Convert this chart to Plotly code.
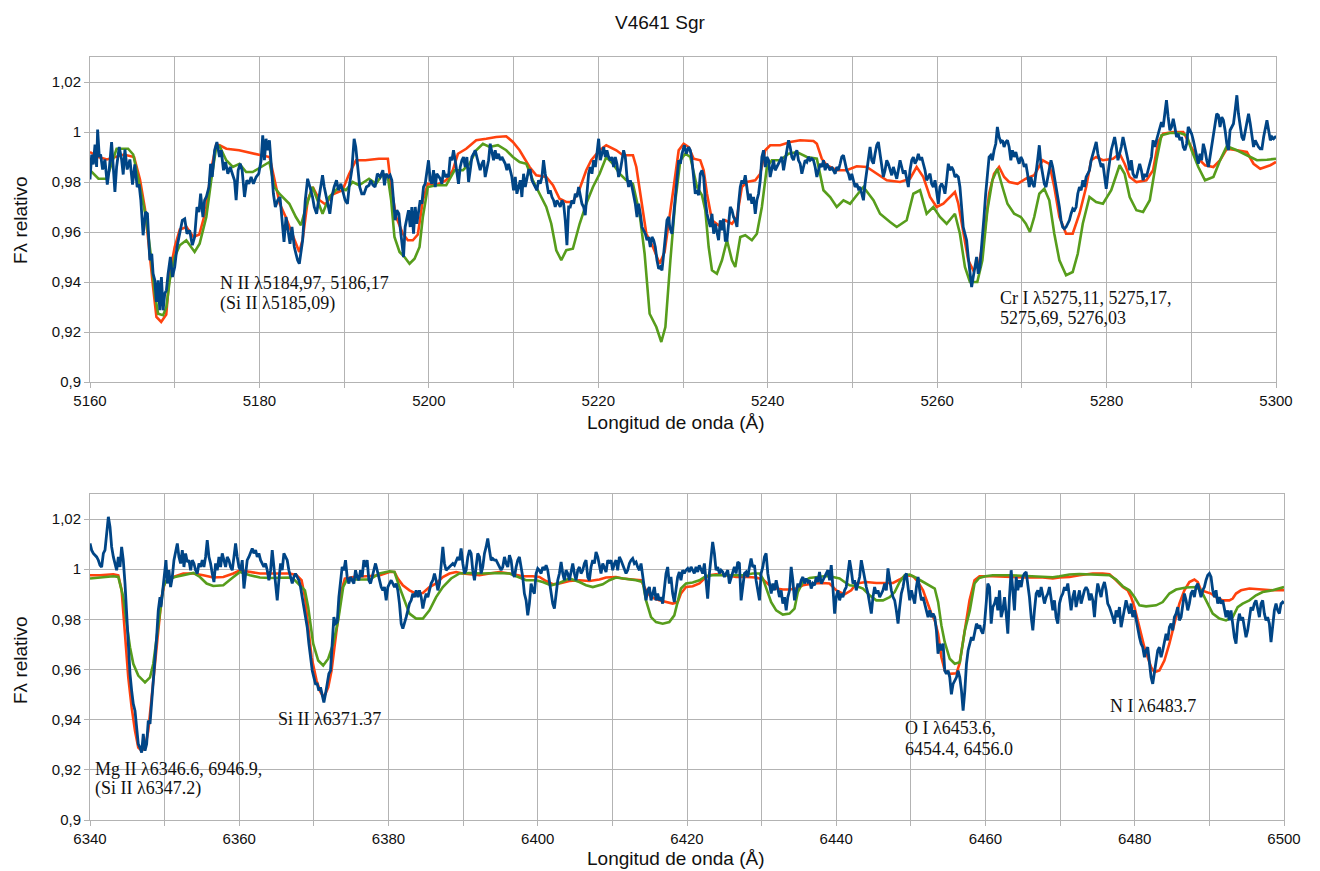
import plotly.graph_objects as go

# ---------------- DATA ----------------
title_text = "V4641 Sgr"
x_title = "Longitud de onda (Å)"
y_title = "Fλ relativo"
y_tick_vals = [0.90, 0.92, 0.94, 0.96, 0.98, 1.00, 1.02]
y_tick_text = ["0,9", "0,92", "0,94", "0,96", "0,98", "1", "1,02"]

# Top panel: 5160-5300 A  (wavelength, relative flux)
top_red = [
    (5160.0, 0.992), (5161.0, 0.990), (5162.0, 0.989), (5163.0, 0.990), (5164.0, 0.991), (5165.2, 0.990),
    (5165.9, 0.981), (5166.5, 0.969), (5167.1, 0.951), (5167.45, 0.938), (5167.84, 0.926), (5168.4, 0.924),
    (5169.0, 0.927), (5169.4, 0.943), (5170.0, 0.954), (5170.6, 0.961), (5171.4, 0.962), (5172.2, 0.958),
    (5172.9, 0.959), (5173.7, 0.969), (5174.3, 0.985), (5174.9, 0.995), (5175.3, 0.9947), (5176.1, 0.9933),
    (5177.6, 0.9927), (5179.2, 0.9913), (5180.2, 0.9907), (5181.2, 0.990), (5181.8, 0.981), (5182.4, 0.9713),
    (5183.1, 0.966), (5183.9, 0.959), (5184.7, 0.952), (5185.1, 0.957), (5185.7, 0.9727), (5186.3, 0.978),
    (5187.1, 0.9727), (5187.8, 0.971), (5188.6, 0.975), (5189.8, 0.9767), (5190.6, 0.9833), (5191.4, 0.9887),
    (5192.5, 0.9887), (5194.1, 0.9893), (5195.16, 0.9893), (5195.55, 0.978), (5196.14, 0.966), (5196.93, 0.9593),
    (5197.52, 0.9567), (5198.11, 0.9567), (5198.70, 0.959), (5199.29, 0.9727), (5199.88, 0.9793), (5200.87, 0.9787),
    (5202.05, 0.9807), (5202.83, 0.9847), (5203.43, 0.9913), (5204.41, 0.9933), (5205.59, 0.9967), (5206.77, 0.9973),
    (5207.95, 0.998), (5209.13, 0.9983), (5209.92, 0.996), (5210.71, 0.9927), (5211.89, 0.986), (5212.68, 0.9827),
    (5213.86, 0.982), (5214.65, 0.9787), (5215.43, 0.9733), (5216.22, 0.972), (5217.0, 0.972), (5217.8, 0.9773),
    (5218.58, 0.9847), (5219.17, 0.9887), (5220.16, 0.9927), (5220.94, 0.9947), (5222.13, 0.9927), (5222.91, 0.9907),
    (5224.09, 0.9907), (5224.49, 0.986), (5225.08, 0.9727), (5225.67, 0.9593), (5226.46, 0.954), (5227.24, 0.9473),
    (5227.83, 0.952), (5228.11, 0.9593), (5228.9, 0.978), (5229.49, 0.9927), (5230.08, 0.9953), (5230.67, 0.994),
    (5231.26, 0.9893), (5232.04, 0.9887), (5232.44, 0.9847), (5232.83, 0.9753), (5233.42, 0.9647), (5234.2, 0.9627),
    (5234.99, 0.9647), (5235.78, 0.9633), (5236.37, 0.966), (5236.95, 0.978), (5237.54, 0.980), (5238.53, 0.9807),
    (5239.12, 0.9833), (5239.71, 0.9927), (5240.29, 0.9947), (5241.47, 0.9947), (5242.65, 0.996), (5243.83, 0.9967),
    (5245.4, 0.9964), (5245.8, 0.9953), (5246.38, 0.9893), (5246.97, 0.9867), (5248.15, 0.9847), (5249.33, 0.9847),
    (5250.51, 0.9863), (5251.69, 0.986), (5252.87, 0.9833), (5254.05, 0.9807), (5255.62, 0.980), (5256.8, 0.9813),
    (5257.58, 0.986), (5258.37, 0.982), (5259.16, 0.974), (5259.94, 0.970), (5260.73, 0.9713), (5261.51, 0.974),
    (5262.1, 0.976), (5262.5, 0.9713), (5263.08, 0.9593), (5263.67, 0.9487), (5264.26, 0.9447), (5264.94, 0.9473),
    (5265.53, 0.958), (5266.13, 0.9753), (5266.72, 0.9833), (5267.31, 0.986), (5267.91, 0.982), (5268.5, 0.980),
    (5269.49, 0.9793), (5270.47, 0.9813), (5271.46, 0.9827), (5272.45, 0.9887), (5273.24, 0.9873), (5273.83, 0.978),
    (5274.43, 0.966), (5275.22, 0.9593), (5276.0, 0.9593), (5276.8, 0.9673), (5277.59, 0.978), (5278.18, 0.9887),
    (5278.77, 0.990), (5279.57, 0.9887), (5280.75, 0.9893), (5281.54, 0.9913), (5282.13, 0.9873), (5282.73, 0.982),
    (5283.52, 0.980), (5284.7, 0.9807), (5285.49, 0.9847), (5286.09, 0.996), (5286.68, 0.9993), (5287.87, 1.000),
    (5289.05, 1.000), (5289.84, 0.9953), (5290.63, 0.990), (5291.62, 0.9867), (5292.61, 0.986), (5293.4, 0.9887),
    (5294.19, 0.9933), (5295.38, 0.9927), (5296.56, 0.992), (5297.35, 0.9873), (5298.14, 0.9853), (5299.33, 0.9867),
    (5300.0, 0.988),
]

top_green = [
    (5160.0, 0.9847), (5161.0, 0.9813), (5161.96, 0.9813), (5163.14, 0.9933), (5164.5, 0.9933), (5165.1, 0.991),
    (5165.9, 0.978), (5166.67, 0.9647), (5167.25, 0.9487), (5167.65, 0.9353), (5168.04, 0.9273), (5168.63, 0.9267),
    (5169.02, 0.930), (5169.41, 0.9407), (5170.0, 0.950), (5170.6, 0.9547), (5171.37, 0.9567), (5172.35, 0.952),
    (5172.94, 0.9553), (5173.73, 0.966), (5174.31, 0.9807), (5174.9, 0.994), (5175.3, 0.9943), (5176.08, 0.9887),
    (5176.86, 0.986), (5177.65, 0.9873), (5178.43, 0.984), (5179.2, 0.984), (5180.2, 0.986), (5181.18, 0.988),
    (5181.76, 0.978), (5182.35, 0.9753), (5183.53, 0.9713), (5184.3, 0.966), (5184.9, 0.9627), (5185.5, 0.970),
    (5186.27, 0.978), (5186.86, 0.9727), (5187.45, 0.9673), (5188.24, 0.974), (5189.4, 0.978), (5190.2, 0.9767),
    (5191.0, 0.980), (5191.76, 0.9787), (5192.94, 0.9813), (5193.78, 0.9793), (5194.57, 0.9833), (5195.16, 0.982),
    (5195.55, 0.9727), (5195.94, 0.958), (5196.54, 0.952), (5197.13, 0.950), (5197.72, 0.9473), (5198.31, 0.9493),
    (5198.9, 0.954), (5199.29, 0.966), (5199.88, 0.978), (5200.87, 0.9787), (5202.05, 0.9787), (5203.03, 0.9847),
    (5204.02, 0.9847), (5204.8, 0.9873), (5205.59, 0.9927), (5206.38, 0.9953), (5207.17, 0.994), (5208.15, 0.9947),
    (5209.13, 0.9927), (5209.92, 0.990), (5210.71, 0.988), (5211.5, 0.9873), (5212.28, 0.9807), (5213.07, 0.9753),
    (5213.86, 0.970), (5214.45, 0.9633), (5215.04, 0.9527), (5215.63, 0.9487), (5216.22, 0.9527), (5217.0, 0.9533),
    (5217.8, 0.9633), (5218.58, 0.9713), (5219.37, 0.978), (5220.16, 0.9833), (5220.94, 0.990), (5221.73, 0.9873),
    (5222.52, 0.9833), (5223.3, 0.9807), (5224.09, 0.9793), (5224.88, 0.9673), (5225.47, 0.9513), (5226.06, 0.9273),
    (5226.85, 0.922), (5227.44, 0.916), (5227.92, 0.922), (5228.51, 0.9487), (5229.1, 0.9727), (5229.69, 0.9887),
    (5230.28, 0.9913), (5230.86, 0.990), (5231.65, 0.978), (5232.24, 0.9747), (5232.63, 0.9687), (5233.03, 0.954),
    (5233.42, 0.9447), (5234.0, 0.9433), (5234.6, 0.9487), (5235.19, 0.9567), (5235.78, 0.9487), (5236.17, 0.946),
    (5236.76, 0.958), (5237.35, 0.9587), (5238.13, 0.9567), (5238.72, 0.9593), (5239.31, 0.970), (5239.9, 0.986),
    (5240.49, 0.9887), (5241.47, 0.9887), (5242.46, 0.9913), (5243.44, 0.992), (5244.62, 0.990), (5245.8, 0.9893),
    (5246.58, 0.9767), (5247.37, 0.974), (5248.15, 0.970), (5248.94, 0.9727), (5249.72, 0.9713), (5250.51, 0.9747),
    (5251.3, 0.978), (5252.48, 0.9727), (5253.26, 0.9673), (5254.44, 0.964), (5255.23, 0.962), (5256.4, 0.9647),
    (5257.19, 0.9753), (5257.98, 0.9767), (5258.76, 0.9673), (5259.55, 0.970), (5260.33, 0.966), (5261.12, 0.9633),
    (5262.1, 0.9673), (5262.69, 0.9593), (5263.28, 0.946), (5263.87, 0.940), (5264.74, 0.940), (5265.34, 0.9487),
    (5265.93, 0.9687), (5266.52, 0.9807), (5267.11, 0.9853), (5267.71, 0.978), (5268.3, 0.9713), (5269.09, 0.9673),
    (5269.88, 0.966), (5270.47, 0.9633), (5270.95, 0.960), (5271.46, 0.966), (5272.06, 0.9753), (5272.65, 0.9773),
    (5273.24, 0.9727), (5273.83, 0.9593), (5274.43, 0.9487), (5275.22, 0.9427), (5276.0, 0.944), (5276.6, 0.9513),
    (5277.19, 0.9633), (5277.98, 0.974), (5278.77, 0.972), (5279.57, 0.9713), (5280.55, 0.9767), (5281.54, 0.9867),
    (5282.13, 0.9833), (5282.73, 0.974), (5283.52, 0.9687), (5284.31, 0.968), (5285.1, 0.9727), (5285.89, 0.9887),
    (5286.48, 0.9987), (5287.47, 0.9996), (5288.66, 0.9996), (5289.45, 0.9987), (5290.04, 0.9927), (5290.83, 0.986),
    (5291.62, 0.9807), (5292.61, 0.982), (5293.4, 0.9887), (5294.19, 0.9943), (5295.38, 0.9927), (5296.56, 0.9907),
    (5297.75, 0.9887), (5298.93, 0.9889), (5300.0, 0.9893),
]

top_blue = [
    (5160.00, 0.981), (5160.20, 0.991), (5160.39, 0.987), (5160.59, 0.995), (5160.78, 0.986), (5160.90, 1.001),
    (5161.10, 0.990), (5161.25, 0.991), (5161.49, 0.985), (5161.76, 0.989), (5162.04, 0.979), (5162.27, 0.985),
    (5162.55, 0.996), (5162.75, 0.985), (5162.94, 0.976), (5163.14, 0.986), (5163.45, 0.994), (5163.73, 0.989),
    (5163.92, 0.983), (5164.12, 0.993), (5164.39, 0.985), (5164.71, 0.989), (5165.02, 0.979), (5165.29, 0.987),
    (5165.57, 0.978), (5165.80, 0.979), (5166.00, 0.9727), (5166.27, 0.9587), (5166.55, 0.968), (5166.78, 0.9673),
    (5167.06, 0.9487), (5167.29, 0.9513), (5167.45, 0.9433), (5167.65, 0.9407), (5167.84, 0.932), (5168.04, 0.9407),
    (5168.24, 0.9287), (5168.43, 0.942), (5168.63, 0.9287), (5168.82, 0.9353), (5169.02, 0.9367), (5169.22, 0.9433),
    (5169.49, 0.950), (5169.73, 0.942), (5170.00, 0.946), (5170.27, 0.954), (5170.59, 0.9593), (5170.90, 0.9647),
    (5171.18, 0.9653), (5171.45, 0.9593), (5171.76, 0.9607), (5172.08, 0.9547), (5172.35, 0.958), (5172.63, 0.970),
    (5172.86, 0.968), (5173.06, 0.9753), (5173.33, 0.966), (5173.53, 0.9727), (5173.73, 0.974), (5174.04, 0.978),
    (5174.24, 0.9873), (5174.43, 0.982), (5174.71, 0.9927), (5174.98, 0.996), (5175.29, 0.990), (5175.49, 0.9927),
    (5175.76, 0.9847), (5176.00, 0.988), (5176.27, 0.9833), (5176.55, 0.986), (5176.86, 0.9827), (5177.06, 0.9807),
    (5177.25, 0.9727), (5177.49, 0.9847), (5177.73, 0.9873), (5177.96, 0.9847), (5178.24, 0.974), (5178.51, 0.9807),
    (5178.75, 0.9793), (5179.02, 0.982), (5179.29, 0.9793), (5179.61, 0.982), (5179.92, 0.9833), (5180.20, 0.9887),
    (5180.39, 0.9987), (5180.59, 0.9887), (5180.78, 0.9973), (5180.98, 0.9927), (5181.18, 0.9967), (5181.37, 0.9887),
    (5181.65, 0.9753), (5181.88, 0.970), (5182.16, 0.9727), (5182.43, 0.974), (5182.67, 0.9647), (5182.90, 0.956),
    (5183.14, 0.966), (5183.33, 0.962), (5183.61, 0.9553), (5183.84, 0.962), (5184.12, 0.954), (5184.31, 0.9513),
    (5184.51, 0.9487), (5184.71, 0.9473), (5184.90, 0.9513), (5185.10, 0.9567), (5185.41, 0.9727), (5185.69, 0.9813),
    (5185.96, 0.978), (5186.27, 0.974), (5186.47, 0.970), (5186.75, 0.9673), (5186.98, 0.9727), (5187.25, 0.9793),
    (5187.45, 0.9827), (5187.65, 0.978), (5187.92, 0.974), (5188.16, 0.970), (5188.31, 0.9673), (5188.55, 0.974),
    (5188.82, 0.978), (5189.10, 0.9807), (5189.33, 0.9767), (5189.61, 0.9793), (5189.88, 0.9753), (5190.12, 0.9727),
    (5190.39, 0.9713), (5190.59, 0.978), (5190.90, 0.9847), (5191.18, 0.9973), (5191.37, 0.994), (5191.61, 0.9847),
    (5191.84, 0.978), (5192.08, 0.9753), (5192.35, 0.9753), (5192.63, 0.978), (5192.94, 0.9787), (5193.14, 0.9807),
    (5193.41, 0.9787), (5193.65, 0.978), (5193.92, 0.9833), (5194.25, 0.982), (5194.57, 0.9847), (5194.76, 0.9787),
    (5194.96, 0.9833), (5195.24, 0.982), (5195.43, 0.9827), (5195.63, 0.9807), (5195.83, 0.9727), (5196.02, 0.9647),
    (5196.22, 0.9687), (5196.46, 0.9673), (5196.61, 0.962), (5196.81, 0.9567), (5197.01, 0.950), (5197.20, 0.962),
    (5197.40, 0.966), (5197.60, 0.9687), (5197.80, 0.962), (5197.99, 0.970), (5198.19, 0.9593), (5198.39, 0.970),
    (5198.58, 0.9633), (5198.78, 0.9673), (5198.98, 0.9727), (5199.17, 0.9713), (5199.37, 0.978), (5199.57, 0.9793),
    (5199.76, 0.9847), (5199.96, 0.9887), (5200.16, 0.9807), (5200.35, 0.9793), (5200.55, 0.9847), (5200.75, 0.978),
    (5200.94, 0.9833), (5201.14, 0.982), (5201.34, 0.9813), (5201.54, 0.9793), (5201.73, 0.9847), (5201.93, 0.982),
    (5202.13, 0.9827), (5202.32, 0.982), (5202.52, 0.990), (5202.72, 0.9887), (5202.91, 0.9927), (5203.11, 0.9887),
    (5203.31, 0.9847), (5203.50, 0.9793), (5203.70, 0.986), (5203.90, 0.9887), (5204.09, 0.990), (5204.29, 0.986),
    (5204.49, 0.990), (5204.69, 0.980), (5204.88, 0.9847), (5205.08, 0.990), (5205.28, 0.9913), (5205.47, 0.9927),
    (5205.67, 0.990), (5205.87, 0.9873), (5206.06, 0.9847), (5206.26, 0.9873), (5206.46, 0.9887), (5206.65, 0.982),
    (5206.85, 0.986), (5207.05, 0.9887), (5207.24, 0.9953), (5207.44, 0.9913), (5207.64, 0.9887), (5207.83, 0.9927),
    (5208.03, 0.9893), (5208.23, 0.9913), (5208.43, 0.9887), (5208.62, 0.990), (5208.82, 0.9887), (5209.02, 0.9873),
    (5209.21, 0.9847), (5209.41, 0.9873), (5209.61, 0.9847), (5209.80, 0.982), (5210.00, 0.9767), (5210.20, 0.982),
    (5210.39, 0.9753), (5210.59, 0.978), (5210.79, 0.9807), (5210.98, 0.974), (5211.18, 0.9833), (5211.38, 0.978),
    (5211.57, 0.982), (5211.77, 0.9847), (5211.97, 0.9847), (5212.17, 0.9807), (5212.36, 0.9793), (5212.56, 0.978),
    (5212.76, 0.9767), (5212.95, 0.9807), (5213.15, 0.9793), (5213.35, 0.982), (5213.54, 0.9887), (5213.74, 0.9833),
    (5213.94, 0.9793), (5214.13, 0.9753), (5214.33, 0.9767), (5214.53, 0.974), (5214.72, 0.9727), (5214.92, 0.970),
    (5215.12, 0.9727), (5215.31, 0.9713), (5215.51, 0.970), (5215.71, 0.9727), (5215.91, 0.9713), (5216.10, 0.9647),
    (5216.30, 0.9547), (5216.50, 0.970), (5216.69, 0.970), (5216.89, 0.9727), (5217.09, 0.9713), (5217.28, 0.9753),
    (5217.48, 0.974), (5217.68, 0.978), (5217.87, 0.9753), (5218.07, 0.9713), (5218.27, 0.970), (5218.46, 0.9667),
    (5218.66, 0.9753), (5218.86, 0.9833), (5219.06, 0.986), (5219.25, 0.9833), (5219.45, 0.9887), (5219.65, 0.986),
    (5219.84, 0.9913), (5220.04, 0.9973), (5220.24, 0.9887), (5220.43, 0.9913), (5220.63, 0.994), (5220.83, 0.990),
    (5221.02, 0.9927), (5221.22, 0.990), (5221.42, 0.9887), (5221.61, 0.990), (5221.81, 0.986), (5222.01, 0.990),
    (5222.20, 0.9873), (5222.40, 0.982), (5222.60, 0.9847), (5222.80, 0.9887), (5222.99, 0.9927), (5223.19, 0.990),
    (5223.39, 0.982), (5223.58, 0.978), (5223.78, 0.9807), (5223.98, 0.978), (5224.17, 0.9753), (5224.37, 0.9713),
    (5224.57, 0.966), (5224.76, 0.9713), (5224.96, 0.9673), (5225.16, 0.962), (5225.35, 0.9607), (5225.55, 0.9593),
    (5225.75, 0.9567), (5225.94, 0.958), (5226.14, 0.954), (5226.34, 0.958), (5226.54, 0.9567), (5226.73, 0.954),
    (5226.93, 0.9487), (5227.13, 0.9453), (5227.32, 0.946), (5227.52, 0.9447), (5227.72, 0.9513), (5227.91, 0.9593),
    (5228.11, 0.9647), (5228.31, 0.966), (5228.43, 0.962), (5228.70, 0.9593), (5228.98, 0.970), (5229.21, 0.9807),
    (5229.49, 0.9887), (5229.69, 0.9873), (5229.88, 0.9913), (5230.16, 0.9947), (5230.39, 0.9913), (5230.67, 0.994),
    (5230.86, 0.9927), (5231.06, 0.9887), (5231.26, 0.9807), (5231.45, 0.9753), (5231.65, 0.9767), (5231.85, 0.9747),
    (5232.04, 0.9833), (5232.24, 0.9847), (5232.44, 0.982), (5232.63, 0.9727), (5232.83, 0.9673), (5233.03, 0.9647),
    (5233.22, 0.962), (5233.42, 0.9673), (5233.62, 0.9593), (5233.81, 0.9633), (5234.01, 0.9593), (5234.20, 0.9567),
    (5234.40, 0.9647), (5234.60, 0.9607), (5234.79, 0.9653), (5234.99, 0.9567), (5235.19, 0.9567), (5235.38, 0.9647),
    (5235.58, 0.970), (5235.78, 0.9687), (5235.97, 0.966), (5236.17, 0.9647), (5236.37, 0.962), (5236.56, 0.9713),
    (5236.76, 0.978), (5236.95, 0.9807), (5237.15, 0.9793), (5237.35, 0.9827), (5237.54, 0.978), (5237.74, 0.9727),
    (5237.94, 0.9753), (5238.13, 0.9713), (5238.33, 0.974), (5238.53, 0.9673), (5238.72, 0.9727), (5238.92, 0.9753),
    (5239.12, 0.9807), (5239.31, 0.990), (5239.51, 0.9927), (5239.71, 0.986), (5239.90, 0.990), (5240.10, 0.9887),
    (5240.29, 0.982), (5240.49, 0.986), (5240.69, 0.9887), (5240.88, 0.9847), (5241.08, 0.986), (5241.28, 0.9873),
    (5241.47, 0.9887), (5241.67, 0.990), (5241.87, 0.9847), (5242.06, 0.9887), (5242.26, 0.994), (5242.46, 0.9967),
    (5242.65, 0.994), (5242.85, 0.990), (5243.04, 0.9887), (5243.24, 0.9913), (5243.44, 0.9927), (5243.63, 0.9887),
    (5243.83, 0.9873), (5244.03, 0.9833), (5244.22, 0.986), (5244.42, 0.9887), (5244.62, 0.988), (5244.81, 0.990),
    (5245.01, 0.9887), (5245.21, 0.9893), (5245.40, 0.9887), (5245.60, 0.986), (5245.80, 0.982), (5245.99, 0.9847),
    (5246.19, 0.9873), (5246.39, 0.986), (5246.58, 0.9887), (5246.78, 0.9847), (5246.97, 0.9873), (5247.17, 0.986),
    (5247.37, 0.9847), (5247.56, 0.986), (5247.76, 0.9847), (5247.96, 0.9833), (5248.15, 0.986), (5248.35, 0.9847),
    (5248.55, 0.9873), (5248.74, 0.990), (5248.94, 0.9907), (5249.14, 0.9873), (5249.33, 0.9847), (5249.53, 0.9833),
    (5249.72, 0.9807), (5249.92, 0.9833), (5250.12, 0.980), (5250.31, 0.978), (5250.51, 0.9793), (5250.71, 0.9773),
    (5250.90, 0.978), (5251.10, 0.9753), (5251.30, 0.9727), (5251.49, 0.9793), (5251.69, 0.9847), (5251.89, 0.990),
    (5252.08, 0.994), (5252.28, 0.9887), (5252.48, 0.9873), (5252.67, 0.9913), (5252.87, 0.9947), (5253.06, 0.996),
    (5253.26, 0.9913), (5253.46, 0.986), (5253.65, 0.982), (5253.85, 0.9847), (5254.05, 0.9887), (5254.24, 0.9873),
    (5254.44, 0.9847), (5254.64, 0.9827), (5254.83, 0.986), (5255.03, 0.9833), (5255.23, 0.9813), (5255.42, 0.9847),
    (5255.62, 0.9887), (5255.82, 0.986), (5256.01, 0.9833), (5256.21, 0.9847), (5256.41, 0.9807), (5256.60, 0.978),
    (5256.80, 0.9847), (5257.00, 0.9887), (5257.19, 0.990), (5257.39, 0.9873), (5257.58, 0.9887), (5257.78, 0.9913),
    (5257.98, 0.9887), (5258.17, 0.990), (5258.37, 0.9873), (5258.57, 0.9847), (5258.76, 0.9807), (5258.96, 0.982),
    (5259.16, 0.9833), (5259.35, 0.9793), (5259.55, 0.978), (5259.75, 0.9807), (5259.94, 0.9753), (5260.14, 0.9713),
    (5260.33, 0.978), (5260.53, 0.9793), (5260.73, 0.978), (5260.92, 0.9753), (5261.12, 0.9807), (5261.32, 0.9873),
    (5261.51, 0.9847), (5261.71, 0.986), (5261.91, 0.9847), (5262.10, 0.982), (5262.30, 0.9827), (5262.50, 0.982),
    (5262.69, 0.978), (5262.89, 0.970), (5263.08, 0.962), (5263.28, 0.9593), (5263.48, 0.9567), (5263.67, 0.950),
    (5263.87, 0.9433), (5264.07, 0.938), (5264.26, 0.942), (5264.46, 0.946), (5264.66, 0.950), (5264.85, 0.9433),
    (5265.05, 0.946), (5265.14, 0.950), (5265.34, 0.9567), (5265.53, 0.966), (5265.73, 0.9753), (5265.93, 0.9833),
    (5266.13, 0.990), (5266.32, 0.9907), (5266.52, 0.9887), (5266.72, 0.9927), (5266.92, 0.9953), (5267.11, 1.002),
    (5267.31, 0.998), (5267.51, 0.996), (5267.71, 0.9967), (5267.90, 0.994), (5268.10, 0.996), (5268.30, 0.9967),
    (5268.50, 0.994), (5268.70, 0.9887), (5268.89, 0.9927), (5269.09, 0.990), (5269.29, 0.992), (5269.49, 0.9893),
    (5269.68, 0.9873), (5269.88, 0.990), (5270.08, 0.9887), (5270.28, 0.986), (5270.47, 0.9873), (5270.67, 0.9833),
    (5270.87, 0.978), (5271.07, 0.982), (5271.26, 0.9793), (5271.46, 0.978), (5271.66, 0.9847), (5271.86, 0.9887),
    (5272.06, 0.9947), (5272.25, 0.9873), (5272.45, 0.9833), (5272.65, 0.9793), (5272.85, 0.978), (5273.04, 0.982),
    (5273.24, 0.986), (5273.44, 0.9887), (5273.64, 0.986), (5273.83, 0.982), (5274.03, 0.978), (5274.23, 0.9753),
    (5274.43, 0.970), (5274.62, 0.9647), (5274.82, 0.962), (5275.02, 0.9613), (5275.22, 0.962), (5275.41, 0.9633),
    (5275.61, 0.9647), (5275.81, 0.9673), (5276.01, 0.9693), (5276.21, 0.9687), (5276.40, 0.970), (5276.60, 0.9753),
    (5276.80, 0.978), (5277.00, 0.9767), (5277.19, 0.9807), (5277.39, 0.978), (5277.59, 0.982), (5277.79, 0.9833),
    (5277.98, 0.9847), (5278.18, 0.9887), (5278.38, 0.9913), (5278.58, 0.994), (5278.78, 0.996), (5278.97, 0.9913),
    (5279.17, 0.9887), (5279.37, 0.986), (5279.57, 0.9873), (5279.76, 0.9833), (5279.96, 0.9773), (5280.16, 0.9833),
    (5280.36, 0.9887), (5280.55, 0.9927), (5280.75, 0.9953), (5280.95, 0.998), (5281.15, 0.994), (5281.34, 0.9887),
    (5281.54, 0.9913), (5281.74, 0.994), (5281.94, 0.998), (5282.13, 0.9953), (5282.33, 0.9927), (5282.53, 0.9887),
    (5282.73, 0.9847), (5282.92, 0.9887), (5283.12, 0.9833), (5283.32, 0.982), (5283.52, 0.982), (5283.71, 0.9847),
    (5283.91, 0.9873), (5284.11, 0.9847), (5284.31, 0.9807), (5284.51, 0.9833), (5284.70, 0.982), (5284.90, 0.9847),
    (5285.10, 0.9873), (5285.30, 0.990), (5285.49, 0.9967), (5285.69, 0.994), (5285.89, 0.9967), (5286.09, 0.9993),
    (5286.28, 1.002), (5286.48, 1.004), (5286.68, 1.002), (5286.88, 1.0073), (5287.07, 1.0127), (5287.27, 1.006),
    (5287.47, 1.0007), (5287.67, 1.002), (5287.87, 1.0053), (5288.06, 1.002), (5288.26, 0.998), (5288.46, 0.9993),
    (5288.66, 0.9967), (5288.85, 0.998), (5289.05, 0.994), (5289.25, 0.9927), (5289.45, 0.9953), (5289.64, 1.002),
    (5289.84, 1.0007), (5290.04, 0.9993), (5290.24, 0.9967), (5290.43, 0.994), (5290.63, 0.990), (5290.83, 0.9873),
    (5291.03, 0.9913), (5291.22, 0.9887), (5291.42, 0.9953), (5291.62, 0.9927), (5291.82, 0.9887), (5292.02, 0.986),
    (5292.21, 0.990), (5292.41, 0.994), (5292.61, 0.998), (5292.81, 1.002), (5293.00, 1.0073), (5293.20, 1.0067),
    (5293.40, 1.002), (5293.60, 1.006), (5293.79, 1.0047), (5293.99, 1.0007), (5294.19, 0.9953), (5294.39, 0.9927),
    (5294.58, 1.0007), (5294.78, 1.002), (5294.98, 1.0033), (5295.18, 1.0087), (5295.38, 1.0147), (5295.57, 1.0073),
    (5295.77, 1.002), (5295.97, 0.998), (5296.17, 0.9967), (5296.36, 1.0007), (5296.56, 1.0033), (5296.76, 1.0073),
    (5296.96, 1.0033), (5297.15, 0.998), (5297.35, 0.994), (5297.55, 0.9967), (5297.75, 0.9953), (5297.94, 0.994),
    (5298.14, 0.9933), (5298.34, 0.9933), (5298.54, 0.998), (5298.73, 1.002), (5298.93, 1.0047), (5299.13, 1.0007),
    (5299.33, 0.9967), (5299.53, 0.998), (5299.72, 0.9973), (5299.92, 0.998), (5300.00, 0.998),
]

# Bottom panel: 6340-6500 A
bot_red = [
    (6340.0, 0.9976), (6341.34, 0.9976), (6343.13, 0.998), (6343.79, 0.9976), (6344.24, 0.9916), (6344.69, 0.9756),
    (6345.13, 0.9569), (6345.58, 0.9449), (6346.03, 0.9356), (6346.47, 0.9289), (6346.92, 0.9276), (6347.37, 0.9289),
    (6347.81, 0.9356), (6348.26, 0.9489), (6348.71, 0.9623), (6349.15, 0.9756), (6349.6, 0.9889), (6350.04, 0.9949),
    (6351.16, 0.9969), (6352.5, 0.9983), (6353.84, 0.9983), (6355.18, 0.9976), (6356.52, 0.9967), (6357.86, 0.9969),
    (6359.2, 0.9983), (6360.09, 0.9996), (6361.43, 0.9989), (6362.77, 0.9983), (6364.1, 0.9983), (6365.45, 0.9983),
    (6366.79, 0.9983), (6367.68, 0.9976), (6368.35, 0.9956), (6368.8, 0.9889), (6369.24, 0.9756), (6369.69, 0.9649),
    (6370.36, 0.9556), (6370.89, 0.951), (6371.34, 0.9489), (6371.92, 0.9529), (6372.37, 0.9596), (6372.81, 0.9703),
    (6373.26, 0.9809), (6373.71, 0.9916), (6374.15, 0.9963), (6375.27, 0.9969), (6377.05, 0.9972), (6378.84, 0.9976),
    (6380.13, 0.9989), (6380.8, 0.9989), (6381.25, 0.9963), (6381.92, 0.9936), (6382.81, 0.9916), (6383.7, 0.9903),
    (6384.6, 0.9905), (6385.49, 0.9929), (6386.38, 0.9943), (6387.28, 0.9969), (6388.17, 0.9983), (6389.06, 0.9989),
    (6389.96, 0.9983), (6390.85, 0.998), (6392.19, 0.9976), (6393.53, 0.9983), (6394.87, 0.9989), (6396.21, 0.9983),
    (6397.1, 0.9976), (6397.99, 0.9972), (6399.33, 0.9972), (6400.22, 0.9969), (6401.12, 0.9953), (6402.0, 0.994),
    (6402.9, 0.9943), (6404.24, 0.9953), (6405.58, 0.9956), (6406.92, 0.9953), (6408.26, 0.9959), (6409.15, 0.9967),
    (6410.49, 0.9969), (6411.38, 0.9963), (6412.72, 0.9959), (6413.84, 0.9956), (6414.51, 0.9916), (6415.18, 0.9889),
    (6416.29, 0.9876), (6417.63, 0.9865), (6418.08, 0.9863), (6418.75, 0.9869), (6419.19, 0.9903), (6419.87, 0.9929),
    (6420.76, 0.9932), (6421.66, 0.9943), (6422.33, 0.9963), (6423.0, 0.9976), (6423.89, 0.998), (6425.23, 0.9976),
    (6426.58, 0.9969), (6427.92, 0.9969), (6429.26, 0.9967), (6430.16, 0.9959), (6431.05, 0.9936), (6431.95, 0.9923),
    (6432.84, 0.9919), (6433.74, 0.9919), (6434.63, 0.9923), (6435.53, 0.9936), (6436.87, 0.9943), (6438.21, 0.9945),
    (6439.1, 0.9943), (6440.0, 0.9916), (6441.12, 0.990), (6442.01, 0.9916), (6442.68, 0.9943), (6444.03, 0.9949),
    (6445.37, 0.9945), (6446.71, 0.9945), (6447.61, 0.9945), (6448.5, 0.9959), (6449.4, 0.9976), (6450.29, 0.9972),
    (6450.96, 0.9949), (6451.63, 0.9916), (6452.08, 0.9876), (6452.75, 0.9823), (6453.2, 0.9796), (6453.65, 0.9743),
    (6454.09, 0.9649), (6454.54, 0.9596), (6455.21, 0.9583), (6456.11, 0.9585), (6456.52, 0.9623), (6457.19, 0.9756),
    (6457.86, 0.9876), (6458.53, 0.9956), (6459.2, 0.9972), (6460.98, 0.9972), (6463.21, 0.9969), (6465.45, 0.9967),
    (6467.68, 0.9967), (6469.02, 0.9963), (6469.91, 0.9967), (6471.25, 0.9969), (6472.59, 0.9976), (6474.38, 0.9983),
    (6475.71, 0.9983), (6476.61, 0.998), (6477.5, 0.9956), (6478.39, 0.9929), (6479.06, 0.9916), (6479.51, 0.9889),
    (6479.96, 0.9849), (6480.4, 0.9796), (6480.85, 0.9743), (6481.29, 0.9689), (6481.74, 0.9649), (6482.19, 0.9609),
    (6482.63, 0.9589), (6483.3, 0.9596), (6483.97, 0.9636), (6484.64, 0.9703), (6485.31, 0.9783), (6485.98, 0.9863),
    (6486.65, 0.9916), (6487.32, 0.9949), (6487.99, 0.9959), (6488.44, 0.9949), (6488.88, 0.9916), (6489.55, 0.9909),
    (6490.22, 0.9903), (6490.89, 0.9889), (6491.79, 0.9876), (6492.68, 0.9876), (6493.13, 0.9883), (6493.57, 0.9903),
    (6494.24, 0.9916), (6495.36, 0.9923), (6496.7, 0.9919), (6498.48, 0.9916), (6500.0, 0.9916),
]

bot_green = [
    (6340.0, 0.9963), (6341.34, 0.9967), (6343.13, 0.9972), (6343.79, 0.9969), (6344.46, 0.9889), (6344.91, 0.9783),
    (6345.36, 0.9689), (6345.8, 0.9623), (6346.47, 0.9576), (6347.37, 0.9549), (6348.04, 0.9569), (6348.48, 0.9623),
    (6348.93, 0.9729), (6349.38, 0.9836), (6349.82, 0.9929), (6350.27, 0.9956), (6351.38, 0.9969), (6352.5, 0.9976),
    (6353.84, 0.9985), (6354.73, 0.9969), (6355.63, 0.9943), (6356.52, 0.9933), (6357.86, 0.9936), (6358.97, 0.9963),
    (6360.09, 0.9989), (6361.43, 0.9976), (6362.77, 0.9967), (6364.1, 0.9965), (6365.45, 0.9967), (6366.79, 0.9967),
    (6367.46, 0.9956), (6368.13, 0.9936), (6368.8, 0.9916), (6369.24, 0.9849), (6369.91, 0.9703), (6370.58, 0.9636),
    (6371.25, 0.9616), (6371.92, 0.9643), (6372.59, 0.9703), (6373.26, 0.9796), (6373.93, 0.9929), (6374.38, 0.9956),
    (6375.71, 0.9959), (6377.5, 0.9959), (6378.79, 0.9983), (6380.13, 0.9992), (6380.8, 0.9989), (6381.47, 0.9929),
    (6382.14, 0.9876), (6382.81, 0.9823), (6383.7, 0.9803), (6384.6, 0.9803), (6385.49, 0.9836), (6386.38, 0.9889),
    (6387.28, 0.9929), (6388.39, 0.9963), (6389.51, 0.9983), (6390.85, 0.9985), (6392.63, 0.9983), (6394.42, 0.9985),
    (6396.21, 0.9983), (6397.54, 0.9967), (6398.44, 0.9956), (6399.78, 0.9956), (6400.67, 0.9949), (6401.79, 0.9936),
    (6402.9, 0.9945), (6404.24, 0.9963), (6405.58, 0.9949), (6406.47, 0.9936), (6407.37, 0.9929), (6408.71, 0.994),
    (6409.6, 0.9956), (6410.49, 0.9967), (6411.83, 0.9963), (6413.17, 0.9956), (6414.06, 0.9949), (6414.51, 0.9876),
    (6415.18, 0.9809), (6415.85, 0.9789), (6416.74, 0.9783), (6417.63, 0.9789), (6418.3, 0.9816), (6418.75, 0.9869),
    (6419.19, 0.9923), (6419.87, 0.9943), (6420.76, 0.9947), (6421.66, 0.9956), (6422.55, 0.9973), (6423.45, 0.9976),
    (6424.79, 0.9976), (6426.13, 0.9973), (6427.47, 0.9976), (6428.81, 0.9983), (6429.71, 0.9983), (6430.16, 0.9963),
    (6430.6, 0.9923), (6431.28, 0.9869), (6431.95, 0.9836), (6432.84, 0.9819), (6433.74, 0.9823), (6434.41, 0.9843),
    (6434.85, 0.9909), (6435.53, 0.9949), (6436.42, 0.9965), (6437.32, 0.9969), (6438.66, 0.9973), (6439.55, 0.9969),
    (6440.45, 0.9963), (6441.12, 0.9949), (6441.79, 0.9936), (6442.68, 0.9933), (6443.58, 0.9923), (6444.47, 0.9896),
    (6445.37, 0.9876), (6446.26, 0.9876), (6447.16, 0.9889), (6447.83, 0.9909), (6448.5, 0.9949), (6449.17, 0.9976),
    (6449.84, 0.9979), (6450.74, 0.9965), (6451.63, 0.9949), (6452.53, 0.9936), (6453.2, 0.9923), (6453.65, 0.9869),
    (6454.09, 0.9776), (6454.54, 0.9709), (6455.21, 0.9643), (6455.88, 0.9623), (6456.56, 0.9629), (6457.23, 0.9756),
    (6457.9, 0.9836), (6458.53, 0.9943), (6459.15, 0.9965), (6460.0, 0.9972), (6460.98, 0.9976), (6463.21, 0.9976),
    (6465.45, 0.9972), (6467.68, 0.9968), (6469.02, 0.9968), (6469.91, 0.9972), (6471.25, 0.9979), (6472.59, 0.9981),
    (6474.38, 0.9979), (6476.61, 0.9976), (6477.5, 0.9959), (6478.39, 0.9932), (6479.29, 0.9916), (6479.96, 0.9889),
    (6480.63, 0.9856), (6481.52, 0.9852), (6482.86, 0.9856), (6483.75, 0.9869), (6484.64, 0.9903), (6485.54, 0.9919),
    (6486.88, 0.9927), (6488.21, 0.9929), (6488.88, 0.9916), (6489.55, 0.9876), (6490.45, 0.9823), (6491.34, 0.9803),
    (6492.23, 0.9796), (6493.13, 0.9809), (6493.79, 0.9849), (6494.46, 0.9863), (6495.36, 0.9876), (6496.25, 0.9896),
    (6497.14, 0.9909), (6498.48, 0.9916), (6499.38, 0.9923), (6500.0, 0.9929),
]

bot_blue = [
    (6340.00, 1.0103), (6340.22, 1.0076), (6340.45, 1.0063), (6340.67, 1.0056), (6340.89, 1.0049), (6341.12, 1.0036),
    (6341.34, 1.0016), (6341.56, 1.0009), (6341.79, 1.0063), (6342.01, 1.0076), (6342.23, 1.0143), (6342.46, 1.0209),
    (6342.68, 1.0169), (6342.90, 1.0089), (6343.13, 1.0049), (6343.35, 1.0023), (6343.57, 0.9996), (6343.80, 1.0049),
    (6344.02, 1.0009), (6344.24, 1.0089), (6344.46, 1.0036), (6344.69, 0.9943), (6344.91, 0.9823), (6345.13, 0.9689),
    (6345.36, 0.9583), (6345.58, 0.9516), (6345.80, 0.9463), (6346.03, 0.9436), (6346.25, 0.9356), (6346.47, 0.9303),
    (6346.70, 0.9289), (6346.92, 0.9269), (6347.14, 0.9343), (6347.37, 0.9276), (6347.59, 0.9303), (6347.81, 0.9396),
    (6348.04, 0.9383), (6348.26, 0.9463), (6348.48, 0.9543), (6348.71, 0.9623), (6348.93, 0.9729), (6349.15, 0.9836),
    (6349.38, 0.9889), (6349.51, 0.9849), (6349.73, 0.9916), (6350.04, 1.0009), (6350.18, 1.0036), (6350.36, 0.9943),
    (6350.58, 0.9996), (6350.80, 0.9929), (6351.03, 0.9969), (6351.25, 1.0036), (6351.47, 1.0076), (6351.70, 1.0103),
    (6351.92, 1.0049), (6352.14, 1.0023), (6352.37, 1.0076), (6352.59, 1.0009), (6352.81, 1.0063), (6353.04, 1.0029),
    (6353.26, 1.0036), (6353.48, 0.9996), (6353.71, 1.0036), (6353.93, 1.0023), (6354.15, 0.9996), (6354.38, 0.9983),
    (6354.60, 1.0023), (6354.82, 1.0009), (6355.04, 1.0036), (6355.27, 1.0009), (6355.49, 1.0049), (6355.71, 1.0116),
    (6355.94, 1.0049), (6356.16, 1.0023), (6356.38, 0.9983), (6356.61, 0.9949), (6356.83, 1.0023), (6357.05, 0.9996),
    (6357.28, 1.0049), (6357.50, 1.0009), (6357.72, 1.0063), (6357.95, 1.0036), (6358.17, 1.0009), (6358.39, 1.0049),
    (6358.62, 1.0036), (6358.84, 1.0009), (6359.06, 0.9996), (6359.29, 1.0049), (6359.51, 1.0103), (6359.73, 1.0049),
    (6359.96, 1.0009), (6360.18, 0.9996), (6360.40, 1.0036), (6360.63, 0.9923), (6360.85, 0.9996), (6361.07, 1.0036),
    (6361.29, 1.0049), (6361.52, 1.0063), (6361.74, 1.0083), (6361.96, 1.0063), (6362.19, 1.0076), (6362.41, 1.0049),
    (6362.63, 1.0063), (6362.86, 1.0036), (6363.08, 1.0023), (6363.30, 1.0009), (6363.53, 1.0023), (6363.75, 0.9996),
    (6363.97, 0.9956), (6364.20, 0.9996), (6364.42, 1.0076), (6364.64, 1.0009), (6364.87, 0.9943), (6365.09, 0.9876),
    (6365.31, 0.9956), (6365.54, 1.0023), (6365.76, 0.9996), (6365.98, 1.0063), (6366.21, 1.0049), (6366.43, 1.0036),
    (6366.65, 0.9996), (6366.88, 0.9969), (6367.10, 0.9943), (6367.32, 0.9969), (6367.54, 0.9983), (6367.77, 0.9969),
    (6367.99, 0.9956), (6368.21, 0.9929), (6368.44, 0.9889), (6368.66, 0.9836), (6368.88, 0.9809), (6369.11, 0.9769),
    (6369.33, 0.9703), (6369.55, 0.9649), (6369.78, 0.9596), (6370.00, 0.9569), (6370.22, 0.9543), (6370.45, 0.9543),
    (6370.67, 0.9516), (6370.89, 0.9529), (6371.12, 0.9503), (6371.34, 0.9469), (6371.56, 0.9503), (6371.79, 0.9543),
    (6372.01, 0.9583), (6372.23, 0.9596), (6372.46, 0.9716), (6372.68, 0.9809), (6372.90, 0.9783), (6373.13, 0.9789),
    (6373.35, 0.9889), (6373.57, 0.9943), (6373.79, 1.0009), (6374.02, 0.9996), (6374.24, 1.0036), (6374.46, 0.9969),
    (6374.69, 0.9943), (6374.91, 0.9969), (6375.13, 0.9956), (6375.36, 0.9943), (6375.58, 0.9996), (6375.80, 0.9969),
    (6376.03, 0.9956), (6376.25, 0.9996), (6376.47, 0.9969), (6376.70, 1.0036), (6376.92, 1.0009), (6377.14, 1.0036),
    (6377.37, 0.9956), (6377.59, 0.9943), (6377.81, 0.9969), (6378.04, 0.9996), (6378.26, 1.0023), (6378.48, 0.9996),
    (6378.71, 0.9969), (6379.02, 0.9929), (6379.24, 0.9916), (6379.46, 0.9929), (6379.69, 0.9876), (6379.91, 0.9929),
    (6380.13, 0.9943), (6380.36, 0.9956), (6380.58, 0.9943), (6380.80, 0.9929), (6381.03, 0.9943), (6381.25, 0.9916),
    (6381.47, 0.9863), (6381.70, 0.9783), (6381.92, 0.9763), (6382.14, 0.9783), (6382.37, 0.9809), (6382.59, 0.9836),
    (6382.81, 0.9863), (6383.04, 0.9876), (6383.26, 0.9903), (6383.48, 0.9889), (6383.71, 0.9916), (6383.93, 0.9889),
    (6384.15, 0.9916), (6384.38, 0.9889), (6384.60, 0.9843), (6384.82, 0.9876), (6385.05, 0.9903), (6385.27, 0.9889),
    (6385.49, 0.9916), (6385.71, 0.9943), (6385.94, 0.9956), (6386.16, 0.9983), (6386.38, 0.9956), (6386.61, 0.9916),
    (6386.83, 0.9943), (6387.05, 1.0023), (6387.28, 1.0089), (6387.50, 1.0023), (6387.72, 0.9996), (6387.95, 1.0003),
    (6388.17, 1.0009), (6388.39, 1.0016), (6388.62, 1.0023), (6388.84, 1.0016), (6389.06, 1.0029), (6389.29, 1.0049),
    (6389.51, 1.0036), (6389.73, 1.0083), (6389.96, 1.0023), (6390.18, 0.9983), (6390.40, 0.9996), (6390.63, 1.0049),
    (6390.85, 1.0076), (6391.07, 1.0063), (6391.29, 0.9996), (6391.52, 0.9956), (6391.74, 1.0009), (6391.96, 1.0063),
    (6392.19, 1.0049), (6392.41, 0.9983), (6392.63, 1.0009), (6392.86, 1.0063), (6393.08, 1.0089), (6393.30, 1.0123),
    (6393.53, 1.0076), (6393.75, 1.0036), (6393.97, 1.0043), (6394.20, 1.0036), (6394.42, 1.0036), (6394.64, 1.0023),
    (6394.87, 1.0009), (6395.09, 0.9996), (6395.31, 1.0009), (6395.54, 1.0049), (6395.76, 1.0023), (6395.98, 1.0009),
    (6396.21, 1.0056), (6396.43, 1.0036), (6396.65, 0.9983), (6396.88, 0.9969), (6397.10, 1.0009), (6397.32, 1.0036),
    (6397.54, 1.0049), (6397.77, 1.0009), (6397.99, 0.9969), (6398.21, 0.9903), (6398.44, 0.9876), (6398.66, 0.9816),
    (6398.88, 0.9863), (6399.11, 0.9943), (6399.33, 0.9916), (6399.55, 0.9903), (6399.78, 0.9983), (6400.00, 1.0003),
    (6400.22, 0.9996), (6400.45, 0.9983), (6400.67, 1.0009), (6400.89, 0.9996), (6401.12, 1.0016), (6401.34, 0.9996),
    (6401.56, 0.9956), (6401.79, 0.9916), (6402.01, 0.9863), (6402.23, 0.9843), (6402.46, 0.9916), (6402.68, 0.9956),
    (6402.90, 0.9983), (6403.13, 1.0029), (6403.35, 0.9983), (6403.57, 0.9956), (6403.79, 0.9996), (6404.02, 0.9983),
    (6404.24, 0.9956), (6404.46, 0.9996), (6404.69, 1.0023), (6404.91, 0.9983), (6405.13, 0.9956), (6405.36, 0.9996),
    (6405.58, 1.0009), (6405.80, 0.9983), (6406.03, 0.9996), (6406.25, 1.0023), (6406.47, 1.0036), (6406.70, 0.9969),
    (6406.92, 0.9956), (6407.14, 1.0009), (6407.37, 1.0036), (6407.59, 1.0023), (6407.81, 1.0069), (6408.04, 1.0049),
    (6408.26, 1.0009), (6408.48, 0.9983), (6408.71, 1.0023), (6408.93, 1.0009), (6409.15, 0.9989), (6409.38, 1.0036),
    (6409.60, 1.0023), (6409.82, 1.0036), (6410.04, 0.9996), (6410.27, 1.0023), (6410.49, 1.0036), (6410.71, 0.9996),
    (6410.94, 1.0049), (6411.16, 1.0036), (6411.38, 1.0016), (6411.61, 0.9996), (6411.83, 0.9983), (6412.05, 0.9996),
    (6412.28, 1.0023), (6412.50, 1.0036), (6412.72, 1.0043), (6412.95, 1.0023), (6413.17, 1.0029), (6413.39, 1.0009),
    (6413.62, 0.9996), (6413.84, 1.0023), (6414.06, 0.9969), (6414.29, 0.9916), (6414.51, 0.9876), (6414.73, 0.9916),
    (6414.96, 0.9929), (6415.18, 0.9876), (6415.40, 0.9903), (6415.63, 0.9929), (6415.85, 0.9876), (6416.07, 0.9903),
    (6416.29, 0.9876), (6416.52, 0.9889), (6416.74, 0.9863), (6416.96, 0.9929), (6417.19, 0.9983), (6417.41, 1.0009),
    (6417.63, 0.9943), (6417.85, 0.9969), (6418.08, 0.9903), (6418.30, 0.9869), (6418.52, 0.9916), (6418.75, 0.9969),
    (6418.97, 0.9989), (6419.19, 0.9956), (6419.42, 0.9996), (6419.64, 0.9983), (6419.86, 0.9996), (6420.09, 1.0003),
    (6420.31, 0.9989), (6420.54, 1.0009), (6420.76, 0.9996), (6420.98, 0.9983), (6421.21, 1.0009), (6421.43, 0.9989),
    (6421.65, 1.0016), (6421.88, 0.9996), (6422.10, 0.9983), (6422.33, 1.0023), (6422.55, 0.9956), (6422.77, 0.9883),
    (6423.00, 0.9983), (6423.22, 1.0049), (6423.44, 1.0109), (6423.67, 1.0063), (6423.89, 0.9996), (6424.12, 1.0009),
    (6424.34, 0.9983), (6424.56, 0.9996), (6424.79, 0.9989), (6425.01, 0.9969), (6425.23, 0.9983), (6425.46, 0.9996),
    (6425.68, 0.9943), (6425.91, 0.9969), (6426.13, 0.9989), (6426.35, 1.0009), (6426.58, 0.9983), (6426.80, 1.0029),
    (6427.02, 1.0023), (6427.25, 0.9876), (6427.47, 0.9929), (6427.70, 0.9983), (6427.92, 0.9989), (6428.14, 0.9969),
    (6428.37, 1.0009), (6428.59, 1.0043), (6428.81, 1.0009), (6429.04, 1.0016), (6429.26, 0.9956), (6429.49, 0.9916),
    (6429.71, 0.9876), (6429.93, 0.9983), (6430.16, 1.0009), (6430.38, 1.0049), (6430.60, 1.0063), (6430.83, 0.9983),
    (6431.05, 0.9943), (6431.28, 0.9903), (6431.50, 0.9943), (6431.72, 0.9916), (6431.95, 0.9956), (6432.17, 0.9916),
    (6432.39, 0.9889), (6432.62, 0.9916), (6432.84, 0.9863), (6433.07, 0.9889), (6433.29, 0.9836), (6433.51, 0.9889),
    (6433.74, 0.9916), (6433.96, 1.0009), (6434.18, 0.9956), (6434.41, 0.9876), (6434.63, 0.9916), (6434.86, 0.9943),
    (6435.08, 0.9929), (6435.30, 0.9956), (6435.53, 0.9969), (6435.75, 0.9943), (6435.97, 0.9963), (6436.20, 0.9949),
    (6436.42, 0.9956), (6436.64, 0.9923), (6436.87, 0.9943), (6437.09, 0.9936), (6437.32, 0.9969), (6437.54, 0.9949),
    (6437.76, 0.9989), (6437.99, 0.9943), (6438.21, 0.9956), (6438.43, 0.9969), (6438.66, 0.9983), (6438.88, 0.9996),
    (6439.11, 0.9956), (6439.33, 1.0016), (6439.55, 0.9929), (6439.78, 0.9823), (6440.00, 0.9889), (6440.22, 0.9916),
    (6440.45, 0.9876), (6440.67, 0.9903), (6440.89, 0.9889), (6441.12, 0.9916), (6441.34, 0.9929), (6441.57, 0.9983),
    (6441.79, 1.0036), (6442.01, 0.9996), (6442.24, 0.9943), (6442.46, 0.9956), (6442.68, 0.9916), (6442.91, 0.9943),
    (6443.13, 0.9969), (6443.36, 1.0036), (6443.58, 0.9996), (6443.80, 0.9956), (6444.03, 0.9929), (6444.25, 0.9903),
    (6444.47, 0.9863), (6444.70, 0.9823), (6444.92, 0.9889), (6445.14, 0.9929), (6445.37, 0.9903), (6445.59, 0.9916),
    (6445.82, 0.9889), (6446.04, 0.9903), (6446.26, 0.9916), (6446.49, 0.9943), (6446.71, 0.9916), (6446.93, 1.0003),
    (6447.16, 0.9956), (6447.38, 0.9916), (6447.61, 0.9889), (6447.83, 0.9876), (6448.05, 0.9836), (6448.28, 0.9783),
    (6448.50, 0.9849), (6448.72, 0.9903), (6448.95, 0.9929), (6449.17, 0.9969), (6449.40, 0.9983), (6449.62, 0.9916),
    (6449.84, 0.9876), (6450.07, 0.9916), (6450.29, 0.9889), (6450.51, 0.9863), (6450.74, 0.9929), (6450.96, 0.9969),
    (6451.18, 0.9916), (6451.41, 0.9876), (6451.63, 0.9889), (6451.86, 0.9863), (6452.08, 0.9836), (6452.30, 0.9809),
    (6452.53, 0.9836), (6452.75, 0.9809), (6452.97, 0.9823), (6453.20, 0.9809), (6453.42, 0.9756), (6453.64, 0.9663),
    (6453.87, 0.9703), (6454.09, 0.9676), (6454.32, 0.9703), (6454.54, 0.9596), (6454.76, 0.9583), (6454.99, 0.9596),
    (6455.21, 0.9569), (6455.43, 0.9501), (6455.66, 0.9543), (6455.88, 0.9556), (6456.11, 0.9569), (6456.33, 0.9596),
    (6456.55, 0.9569), (6456.78, 0.9516), (6457.00, 0.9436), (6457.23, 0.9516), (6457.45, 0.9623), (6457.67, 0.9676),
    (6457.90, 0.9703), (6458.12, 0.9729), (6458.34, 0.9716), (6458.57, 0.9756), (6458.79, 0.9783), (6459.01, 0.9769),
    (6459.24, 0.9776), (6459.42, 0.9756), (6459.64, 0.9743), (6459.87, 0.9783), (6460.09, 0.9849), (6460.31, 0.9943),
    (6460.54, 0.9929), (6460.76, 0.9783), (6460.98, 0.9849), (6461.21, 0.9863), (6461.43, 0.9889), (6461.65, 0.9836),
    (6461.88, 0.9916), (6462.10, 0.9809), (6462.32, 0.9836), (6462.55, 0.9889), (6462.77, 0.9823), (6462.99, 0.9743),
    (6463.21, 0.9889), (6463.44, 0.9996), (6463.66, 0.9916), (6463.88, 0.9836), (6464.11, 0.9969), (6464.33, 0.9916),
    (6464.55, 0.9956), (6464.78, 0.9929), (6465.00, 0.9969), (6465.22, 0.9983), (6465.45, 0.9989), (6465.67, 0.9943),
    (6465.89, 0.9889), (6466.12, 0.9809), (6466.34, 0.9756), (6466.56, 0.9836), (6466.79, 0.9903), (6467.01, 0.9916),
    (6467.23, 0.9889), (6467.46, 0.9929), (6467.68, 0.9889), (6467.90, 0.9863), (6468.13, 0.9889), (6468.35, 0.9903),
    (6468.57, 0.9929), (6468.79, 0.9889), (6469.02, 0.9836), (6469.24, 0.9876), (6469.46, 0.9809), (6469.69, 0.9783),
    (6469.91, 0.9863), (6470.13, 0.9889), (6470.36, 0.9903), (6470.58, 0.9929), (6470.80, 0.9916), (6471.03, 0.9943),
    (6471.25, 0.9876), (6471.47, 0.9836), (6471.70, 0.9889), (6471.92, 0.9916), (6472.14, 0.9849), (6472.37, 0.9889),
    (6472.59, 0.9916), (6472.81, 0.9863), (6473.04, 0.9889), (6473.26, 0.9916), (6473.48, 0.9929), (6473.71, 0.9916),
    (6473.93, 0.9876), (6474.15, 0.9903), (6474.38, 0.9876), (6474.60, 0.9809), (6474.82, 0.9889), (6475.04, 0.9943),
    (6475.27, 0.9916), (6475.49, 0.9889), (6475.71, 0.9929), (6475.94, 0.9949), (6476.16, 0.9916), (6476.38, 0.9863),
    (6476.61, 0.9849), (6476.83, 0.9823), (6477.05, 0.9809), (6477.28, 0.9783), (6477.50, 0.9836), (6477.72, 0.9809),
    (6477.95, 0.9849), (6478.17, 0.9769), (6478.39, 0.9809), (6478.62, 0.9836), (6478.84, 0.9876), (6479.06, 0.9849),
    (6479.29, 0.9823), (6479.51, 0.9863), (6479.73, 0.9809), (6479.96, 0.9836), (6480.18, 0.9796), (6480.40, 0.9756),
    (6480.63, 0.9729), (6480.85, 0.9703), (6481.07, 0.9689), (6481.30, 0.9649), (6481.52, 0.9676), (6481.74, 0.9689),
    (6481.96, 0.9636), (6482.19, 0.9569), (6482.41, 0.9543), (6482.63, 0.9583), (6482.86, 0.9623), (6483.08, 0.9676),
    (6483.30, 0.9689), (6483.53, 0.9649), (6483.75, 0.9676), (6483.97, 0.9703), (6484.20, 0.9743), (6484.42, 0.9716),
    (6484.64, 0.9769), (6484.87, 0.9783), (6485.09, 0.9756), (6485.31, 0.9809), (6485.54, 0.9823), (6485.76, 0.9849),
    (6485.98, 0.9796), (6486.21, 0.9809), (6486.43, 0.9863), (6486.65, 0.9903), (6486.88, 0.9876), (6487.10, 0.9836),
    (6487.32, 0.9863), (6487.54, 0.9903), (6487.77, 0.9916), (6487.99, 0.9889), (6488.21, 0.9929), (6488.44, 0.9943),
    (6488.66, 0.9916), (6488.88, 0.9889), (6489.11, 0.9916), (6489.33, 0.9929), (6489.55, 0.9956), (6489.78, 0.9976),
    (6490.00, 0.9983), (6490.22, 0.9969), (6490.45, 0.9916), (6490.67, 0.9889), (6490.89, 0.9916), (6491.12, 0.9863),
    (6491.34, 0.9889), (6491.56, 0.9863), (6491.79, 0.9876), (6492.01, 0.9836), (6492.23, 0.9809), (6492.46, 0.9836),
    (6492.68, 0.9796), (6492.90, 0.9836), (6493.13, 0.9783), (6493.35, 0.9729), (6493.57, 0.9703), (6493.79, 0.9783),
    (6494.02, 0.9823), (6494.24, 0.9796), (6494.46, 0.9809), (6494.69, 0.9769), (6494.91, 0.9729), (6495.13, 0.9756),
    (6495.36, 0.9809), (6495.58, 0.9849), (6495.80, 0.9836), (6496.03, 0.9863), (6496.25, 0.9876), (6496.47, 0.9836),
    (6496.70, 0.9809), (6496.92, 0.9863), (6497.14, 0.9876), (6497.37, 0.9823), (6497.59, 0.9796), (6497.81, 0.9809),
    (6498.04, 0.9783), (6498.26, 0.9709), (6498.48, 0.9769), (6498.71, 0.9836), (6498.93, 0.9863), (6499.15, 0.9836),
    (6499.38, 0.9823), (6499.60, 0.9863), (6499.82, 0.9869), (6500.00, 0.9863),
]

# Line labels: (panel, wavelength, flux, text)
labels = [
    (1, 5175.1, 0.9395, "N II λ5184,97, 5186,17"),
    (1, 5175.1, 0.9315, "(Si II λ5185,09)"),
    (1, 5267.2, 0.9335, "Cr I λ5275,11, 5275,17,"),
    (1, 5267.2, 0.9255, "5275,69, 5276,03"),
    (2, 6340.4, 0.9205, "Mg II λ6346.6, 6946.9,"),
    (2, 6340.4, 0.9127, "(Si II λ6347.2)"),
    (2, 6364.9, 0.9404, "Si II λ6371.37"),
    (2, 6448.9, 0.9365, "O I λ6453.6,"),
    (2, 6448.9, 0.9285, "6454.4, 6456.0"),
    (2, 6476.4, 0.9456, "N I λ6483.7"),
]

# ---------------- FIGURE ----------------
RED = "#ff420e"
GREEN = "#579d1c"
BLUE = "#004586"
GRID = "#b3b3b3"
SANS = "Liberation Sans, Arial, sans-serif"
SERIF = "Liberation Serif, Times New Roman, serif"

fig = go.Figure()

def add_series(data, color, width, xa, ya):
    fig.add_trace(go.Scatter(
        x=[p[0] for p in data], y=[p[1] for p in data], mode="lines",
        line=dict(color=color, width=width), xaxis=xa, yaxis=ya,
        showlegend=False, hoverinfo="skip"))

add_series(top_red, RED, 2.6, "x", "y")
add_series(top_green, GREEN, 2.6, "x", "y")
add_series(top_blue, BLUE, 2.8, "x", "y")
add_series(bot_red, RED, 2.6, "x2", "y2")
add_series(bot_green, GREEN, 2.6, "x2", "y2")
add_series(bot_blue, BLUE, 2.8, "x2", "y2")

# page has an 8px body margin: the figure is drawn 8px right/down of the window origin
OFF = 8
W, H = 1320 - OFF, 871 - OFF
ML, MR = 90 - OFF, W - (1284 - OFF)
MT, MB = 57 - OFF, H - (820 - OFF)
PW, PH = W - ML - MR, H - MT - MB

def px_x(px):
    return (px - OFF - ML) / PW

def px_y(py):
    return (H - MB - (py - OFF)) / PH

xcommon = dict(showgrid=True, gridcolor=GRID, gridwidth=1, zeroline=False,
               showline=True, linecolor=GRID, linewidth=1, mirror=True,
               ticks="outside", ticklen=5, tickcolor=GRID, dtick=20,
               tickfont=dict(family=SANS, size=15, color="#111"),
               minor=dict(dtick=10, showgrid=True, gridcolor=GRID, gridwidth=1,
                          ticks="outside", ticklen=5, tickcolor=GRID))
ycommon = dict(showgrid=True, gridcolor=GRID, gridwidth=1, zeroline=False,
               showline=True, linecolor=GRID, linewidth=1, mirror=True,
               ticks="outside", ticklen=5, tickcolor=GRID,
               tickvals=y_tick_vals, ticktext=y_tick_text, range=[0.9, 1.03],
               tickfont=dict(family=SANS, size=15, color="#111"))

fig.update_layout(
    width=W, height=H, margin=dict(l=ML, r=MR, t=MT, b=MB),
    paper_bgcolor="white", plot_bgcolor="white",
    xaxis=dict(domain=[0, px_x(1276)], range=[5160, 5300], tick0=5160, anchor="y", **xcommon),
    yaxis=dict(domain=[px_y(382), 1], anchor="x", **ycommon),
    xaxis2=dict(domain=[0, 1], range=[6340, 6500], tick0=6340, anchor="y2", **xcommon),
    yaxis2=dict(domain=[0, px_y(494)], anchor="x2", **ycommon),
)

ann = []
ann.append(dict(text=title_text, x=px_x(660), y=px_y(22), xref="paper", yref="paper",
                showarrow=False, xanchor="center", yanchor="middle",
                font=dict(family=SANS, size=19, color="#111")))
for yc in (422, 858):
    ann.append(dict(text=x_title, x=px_x(675), y=px_y(yc), xref="paper", yref="paper",
                    showarrow=False, xanchor="center", yanchor="middle",
                    font=dict(family=SANS, size=19, color="#111")))
for yc in (220, 660):
    ann.append(dict(text=y_title, x=px_x(20), y=px_y(yc), xref="paper", yref="paper",
                    showarrow=False, xanchor="center", yanchor="middle", textangle=-90,
                    font=dict(family=SANS, size=19, color="#111")))
for panel, lx, ly, txt in labels:
    xr, yr = ("x", "y") if panel == 1 else ("x2", "y2")
    ann.append(dict(text=txt, x=lx, y=ly, xref=xr, yref=yr, showarrow=False,
                    xanchor="left", yanchor="middle",
                    font=dict(family=SERIF, size=18, color="#111")))
fig.update_layout(annotations=ann)

fig.write_html("out.html")
